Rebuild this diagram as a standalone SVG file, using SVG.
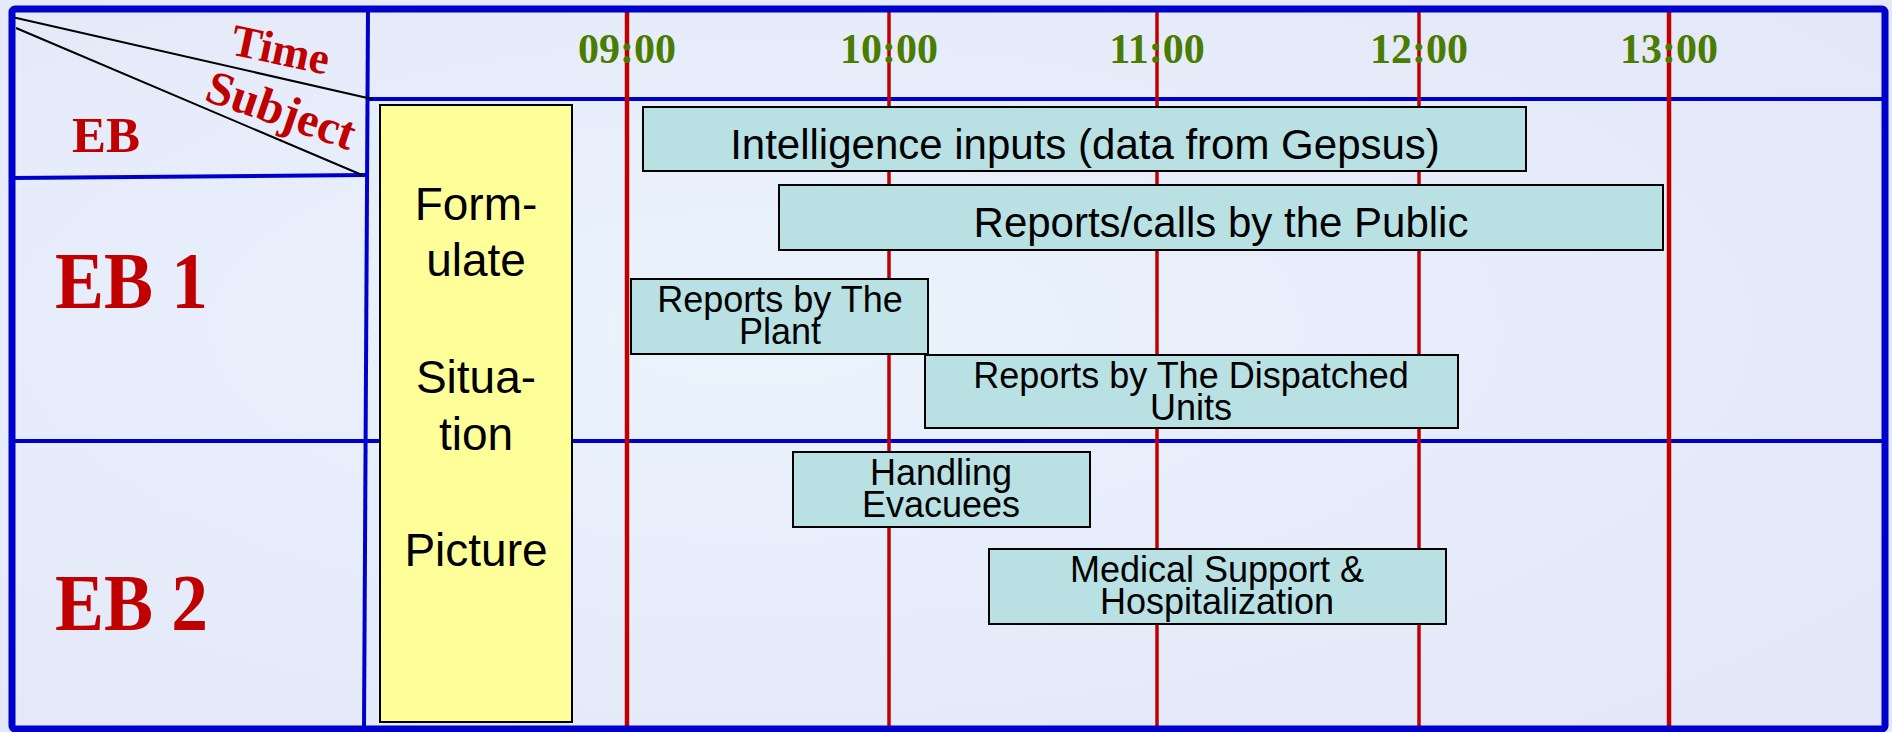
<svg xmlns="http://www.w3.org/2000/svg" width="1892" height="732" viewBox="0 0 1892 732">
<defs>
<radialGradient id="bg" cx="0.4" cy="0.45" r="0.7">
<stop offset="0" stop-color="#eaf3fc"/>
<stop offset="0.6" stop-color="#e6ecfa"/>
<stop offset="1" stop-color="#e4e7f8"/>
</radialGradient>
<style>
.blue{stroke:#0000cc;stroke-width:4;fill:none}
.red{stroke:#c00000;stroke-width:3.5}
.diag{stroke:#000;stroke-width:2;fill:none}
.task{fill:#b9e0e3;stroke:#000;stroke-width:2}
.tt{font-family:"Liberation Sans",Arial,sans-serif;font-size:36px;fill:#000;text-anchor:middle}
.tl{font-family:"Liberation Sans",Arial,sans-serif;font-size:42px;fill:#000;text-anchor:middle}
.hr{font-family:"Liberation Serif","Times New Roman",serif;font-weight:bold;font-size:42px;fill:#4a7c00;text-anchor:middle}
.lab{font-family:"Liberation Serif","Times New Roman",serif;font-weight:bold;fill:#c00000}
.yt{font-family:"Liberation Sans",Arial,sans-serif;font-size:46px;fill:#000;text-anchor:middle}
</style>
</defs>
<rect x="0" y="0" width="1892" height="732" fill="url(#bg)"/>

<g id="grid">
<line class="blue" x1="368" y1="99" x2="1885" y2="99"/>
<line class="blue" x1="12" y1="178" x2="366" y2="175"/>
<line class="blue" x1="12" y1="441" x2="1885" y2="441"/>
<line class="blue" x1="368" y1="9" x2="364" y2="729"/>
<line class="diag" x1="12" y1="17" x2="372" y2="99"/>
<line class="diag" x1="16" y1="28" x2="362" y2="175"/>
<line class="red" x1="627" y1="9" x2="627" y2="730" style="stroke-width:4.5"/>
<line class="red" x1="889" y1="9" x2="889" y2="730"/>
<line class="red" x1="1157" y1="9" x2="1157" y2="730"/>
<line class="red" x1="1419" y1="9" x2="1419" y2="730"/>
<line class="red" x1="1669" y1="9" x2="1669" y2="730" style="stroke-width:4.5"/>
</g>

<rect x="12" y="9" width="1873" height="720" rx="3" fill="none" stroke="#0000cc" stroke-width="7"/>

<g id="headers">
<text class="lab" x="229" y="54" font-size="45" transform="rotate(12 229 54)">Time</text>
<text class="lab" x="203" y="100" font-size="48" transform="rotate(19 203 100)">Subject</text>
<text class="lab" x="72" y="152" font-size="51">EB</text>
<text class="hr" x="627" y="63">09:00</text>
<text class="hr" x="889" y="63">10:00</text>
<text class="hr" x="1157" y="63">11:00</text>
<text class="hr" x="1419" y="63">12:00</text>
<text class="hr" x="1669" y="63">13:00</text>
</g>

<g id="eb1"><text class="lab" x="55" y="308" font-size="80" textLength="153" lengthAdjust="spacingAndGlyphs">EB 1</text></g>
<g id="eb2"><text class="lab" x="55" y="630" font-size="80" textLength="153" lengthAdjust="spacingAndGlyphs">EB 2</text></g>

<g id="situation">
<rect x="380" y="105" width="192" height="617" fill="#ffff99" stroke="#000" stroke-width="2"/>
<text class="yt" x="476" y="220">Form-</text>
<text class="yt" x="476" y="276">ulate</text>
<text class="yt" x="476" y="393">Situa-</text>
<text class="yt" x="476" y="450">tion</text>
<text class="yt" x="476" y="566">Picture</text>
</g>

<g id="intelligence">
<rect class="task" x="643" y="107" width="883" height="64"/>
<text class="tl" x="1085" y="159">Intelligence inputs (data from Gepsus)</text>
</g>
<g id="public">
<rect class="task" x="779" y="185" width="884" height="65"/>
<text class="tl" x="1221" y="237">Reports/calls by the Public</text>
</g>
<g id="plant">
<rect class="task" x="631" y="279" width="297" height="75"/>
<text class="tt" x="780" y="312">Reports by The</text>
<text class="tt" x="780" y="344">Plant</text>
</g>
<g id="dispatched">
<rect class="task" x="925" y="355" width="533" height="73"/>
<text class="tt" x="1191" y="388">Reports by The Dispatched</text>
<text class="tt" x="1191" y="420">Units</text>
</g>
<g id="evacuees">
<rect class="task" x="793" y="452" width="297" height="75"/>
<text class="tt" x="941" y="485">Handling</text>
<text class="tt" x="941" y="517">Evacuees</text>
</g>
<g id="medical">
<rect class="task" x="989" y="549" width="457" height="75"/>
<text class="tt" x="1217" y="582">Medical Support &amp;</text>
<text class="tt" x="1217" y="614">Hospitalization</text>
</g>
</svg>
